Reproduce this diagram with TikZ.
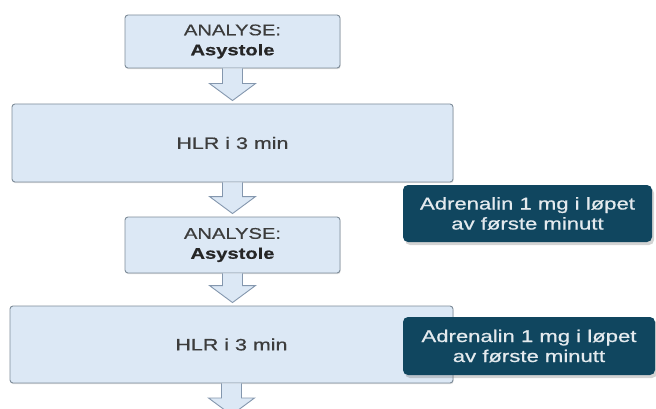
\documentclass[tikz,border=0pt]{standalone}
\usepackage{fontspec}
\newfontfamily\diafont{Liberation Sans}[FakeStretch=1.3,FakeBold=0.7]
\usetikzlibrary{calc,shadows}
\definecolor{lightfill}{HTML}{DCE8F5}
\definecolor{lightline}{HTML}{7E8C99}
\definecolor{arrowline}{HTML}{8497AE}
\definecolor{darkfill}{HTML}{10465F}
\definecolor{darktext}{HTML}{E4EAEE}
\definecolor{boxtext}{HTML}{3C3C3C}
\tikzset{
  lightbox/.style={draw=lightline, line width=0.9pt, fill=lightfill, rounded corners=3pt,
    align=center, text=boxtext, inner sep=0pt,
    drop shadow={shadow xshift=0.6pt, shadow yshift=-1.2pt, opacity=0.25}},
  darkbox/.style={fill=darkfill, rounded corners=5pt, align=center, text=darktext, inner sep=0pt,
    drop shadow={shadow xshift=2pt, shadow yshift=-3pt, opacity=0.35}},
  blockarrow/.style={draw=arrowline, line width=0.9pt, fill=lightfill, line join=miter},
}
\newcommand\blkarrow[2]{%
  \path (#1.south) coordinate (ba) ($(#2)+(0,-3)$) coordinate (bt);
  \filldraw[blockarrow] ($(ba)+(-10,0)$) -- ($(ba|-bt)+(-10,-17)$) -- ($(ba|-bt)+(-23,-17)$)
    -- (ba|-bt) -- ($(ba|-bt)+(23,-17)$) -- ($(ba|-bt)+(10,-17)$) -- ($(ba)+(10,0)$);}
\begin{document}
\begin{tikzpicture}[x=1pt,y=-1pt]
\useasboundingbox (0,0) rectangle (656,409);
\node[lightbox, minimum width=215pt, minimum height=53pt, font=\diafont\fontsize{15.5}{20}\selectfont]
  (a1) at (232.5,41.5) {ANALYSE:\\\textbf{\color{black!85}Asystole}};
\node[lightbox, minimum width=441pt, minimum height=78pt, font=\diafont\fontsize{16.5}{20}\selectfont]
  (h1) at (232.5,143) {HLR i 3 min};
\node[darkbox, minimum width=249pt, minimum height=57pt, font=\diafont\fontsize{17}{20}\selectfont]
  (d1) at (527.5,213.5) {Adrenalin 1 mg i løpet\\av første minutt};
\node[lightbox, minimum width=215pt, minimum height=56pt, font=\diafont\fontsize{15.5}{20}\selectfont]
  (a2) at (232.5,245) {ANALYSE:\\\textbf{\color{black!85}Asystole}};
\node[lightbox, minimum width=443pt, minimum height=77pt, font=\diafont\fontsize{16.5}{20}\selectfont]
  (h2) at (231.5,344.5) {HLR i 3 min};
\node[darkbox, minimum width=252pt, minimum height=58pt, font=\diafont\fontsize{17}{20}\selectfont]
  (d2) at (529,346) {Adrenalin 1 mg i løpet\\av første minutt};
\coordinate (end) at (232.5,418);
\blkarrow{a1}{h1.north}
\blkarrow{h1}{a2.north}
\blkarrow{a2}{h2.north}
\blkarrow{h2}{end}
\end{tikzpicture}
\end{document}
